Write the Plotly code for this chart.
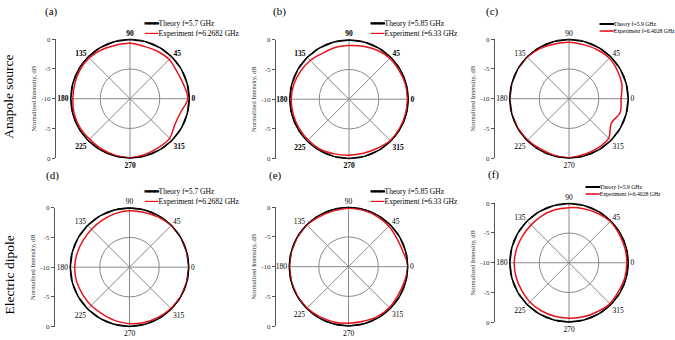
import plotly.graph_objects as go

# ---------------- data ----------------
angles = [0, 15, 30, 45, 60, 75, 90, 105, 120, 135, 150, 165,
          180, 195, 210, 225, 240, 255, 270, 285, 300, 315, 330, 345]

theory_db = [0, 0, 0, 0, 0, 0, 0, 0, 0, 0, 0, 0,
             0, 0, 0, 0, 0, 0, 0, 0, 0, 0, 0, 0]

exp_a = [-0.3, -0.7, -0.9, -0.7, -0.8, -0.9, -0.7, -0.7, -0.5, -0.3, -0.3, -0.4,
         -0.4, -0.3, -0.3, -0.4, -0.3, -0.2, -0.1, -0.3, -0.5, -0.6, -1.3, -1.2]
exp_b = [-0.2, -0.2, -0.3, -0.3, -0.5, -0.8, -1.0, -1.0, -1.1, -0.8, -0.6, -0.4,
         -0.3, -0.3, -0.3, -0.3, -0.3, -0.5, -0.6, -0.6, -0.5, -0.2, -0.2, -0.2]
exp_c = [-1.25, -0.8, -0.6, -0.4, -0.5, -0.6, -0.5, -0.5, -0.3, -0.1, 0.0, 0.0,
         0.0, 0.0, -0.1, -0.2, -0.3, -0.2, -0.1, -0.3, -0.4, -0.6, -1.8, -1.1]
exp_d = [0.0, -0.1, 0.0, -0.1, -0.3, -0.5, -0.55, -0.7, -0.9, -1.0, -1.0, -0.9,
         -0.8, -0.8, -0.9, -0.9, -0.9, -0.7, -0.5, -0.4, -0.3, -0.2, -0.1, -0.1]
exp_e = [0.0, -0.5, -0.6, -0.4, -0.3, -0.2, -0.2, -0.3, -0.3, -0.1, -0.1, -0.1,
         -0.1, -0.1, -0.1, -0.2, -0.3, -0.4, -0.5, -0.5, -0.3, -0.3, -0.4, -0.3]
exp_f = [-0.3, -0.3, -0.3, -0.2, -0.4, -0.6, -0.75, -0.8, -0.9, -1.0, -1.0, -0.9,
         -0.8, -0.8, -0.8, -0.7, -0.7, -0.7, -0.7, -0.6, -0.5, -0.3, -0.4, -0.3]

experiments = [exp_a, exp_b, exp_c, exp_d, exp_e, exp_f]

panel_labels = ["(a)", "(b)", "(c)", "(d)", "(e)", "(f)"]
theory_labels = ["Theory f=5.7 GHz", "Theory f=5.85 GHz", "Theory f=5.9 GHz",
                 "Theory f=5.7 GHz", "Theory f=5.85 GHz", "Theory f=5.9 GHz"]
exp_labels = ["Experiment f=6.2682 GHz", "Experiment f=6.33 GHz", "Experiment f=6.4028 GHz",
              "Experiment f=6.2682 GHz", "Experiment f=6.33 GHz", "Experiment f=6.4028 GHz"]
row_labels = ["Anapole source", "Electric dipole"]

angle_ticks = [0, 45, 90, 135, 180, 225, 270, 315]
left_tickvals = [-10, -5, 0, 5, 10]
left_ticktext = ["0", "-5", "-10", "-5", "0"]
left_title = "Normalized Intensity, dB"

# ---------------- layout geometry (pixels) ----------------
W, H = 675, 340
R = 61
centers = [(130, 97), (349, 97.5), (569, 97), (129.5, 269.5), (348.5, 269), (569, 265)]
axis_x = [56, 276, 495, 55, 276, 495]
label_pos = [(51, 8), (279, 8), (492, 8), (52, 176), (275, 176), (493, 175)]
legend_pos = [(142, 25), (368, 25), (597, 24), (142, 197), (368, 197), (583, 190.5)]
legend_font = [7.5, 7.5, 5.7, 7.5, 7.5, 5.7]
bold_ticks = [True, True, False, False, False, False]
row_label_pos = [(9, 95), (9, 278)]

SERIF = "Liberation Serif"
RED = "#e8141b"


def px(x):
    return x / W


def py(y):
    return 1 - y / H


fig = go.Figure()
layout = dict(
    width=W, height=H, margin=dict(l=0, r=0, t=0, b=0),
    paper_bgcolor="white", plot_bgcolor="white", showlegend=False,
    font=dict(family=SERIF, color="black"),
)
annotations = []

for i in range(6):
    n = "" if i == 0 else str(i + 1)
    cx, cy = centers[i]
    layout["polar" + n] = dict(
        domain=dict(x=[px(cx - R), px(cx + R)], y=[py(cy + R), py(cy - R)]),
        bgcolor="white",
        radialaxis=dict(range=[-10, 0], tickvals=[-5], showticklabels=False, ticks="",
                        showline=False, gridcolor="#8a8a8a", gridwidth=0.8),
        angularaxis=dict(rotation=0, direction="counterclockwise", tickvals=angle_ticks,
                         ticks="", showline=True, linecolor="black", linewidth=1,
                         gridcolor="#8a8a8a", gridwidth=0.8,
                         tickfont=dict(family=SERIF, size=7.5, color="black",
                                       weight="bold" if bold_ticks[i] else "normal")),
    )
    sub = "polar" + n
    fig.add_trace(go.Scatterpolar(
        r=theory_db + theory_db[:1], theta=angles + angles[:1], mode="lines",
        name=theory_labels[i], subplot=sub,
        line=dict(color="black", width=2.2)))
    fig.add_trace(go.Scatterpolar(
        r=experiments[i] + experiments[i][:1], theta=angles + angles[:1], mode="lines",
        name=exp_labels[i], subplot=sub,
        line=dict(color=RED, width=1.5, shape="spline", smoothing=1)))

    # left intensity axis (tick positions carried by an invisible trace)
    ax = axis_x[i]
    fig.add_trace(go.Scatter(
        x=[0] * len(left_tickvals), y=left_tickvals, mode="markers",
        marker=dict(opacity=0, size=1), hoverinfo="skip",
        xaxis="x" + n, yaxis="y" + n))
    layout["xaxis" + n] = dict(domain=[px(ax), px(ax + 2)], anchor="y" + n,
                               visible=False, range=[0, 1])
    layout["yaxis" + n] = dict(
        domain=[py(cy + R), py(cy - R)], anchor="x" + n, visible=True,
        range=[-10, 10], tickvals=left_tickvals, ticktext=left_ticktext,
        showline=True, linecolor="#555555", linewidth=1, ticks="outside", ticklen=3,
        tickcolor="#555555", showgrid=False, zeroline=False,
        tickfont=dict(family=SERIF, size=7, color="#333333"),
        title=dict(text=left_title, font=dict(family=SERIF, size=6.5, color="#333333"),
                   standoff=3),
    )

    lx, ly = label_pos[i]
    annotations.append(dict(text=panel_labels[i], x=px(lx), y=py(ly), xref="paper",
                            yref="paper", showarrow=False, xanchor="center",
                            yanchor="middle", font=dict(family=SERIF, size=11)))
    gx, gy = legend_pos[i]
    fs = legend_font[i]
    nchar = 3 if fs >= 7 else 4
    sym = ("<span style='font-family:DejaVu Sans;font-size:%spx;fill:%s;stroke:%s;"
           "stroke-width:%spx'>" + "\u2501" * nchar + "</span>")
    leg_text = (sym % (fs, "black", "black", 0.9) + theory_labels[i] + "<br>" +
                sym % (fs, RED, RED, 0.1 if fs >= 7 else 0.4) + exp_labels[i])
    annotations.append(dict(text=leg_text, x=px(gx), y=py(gy), xref="paper", yref="paper",
                            showarrow=False, xanchor="left", yanchor="middle", align="left",
                            font=dict(family=SERIF, size=fs, color="black")))

for j in range(2):
    rx, ry = row_label_pos[j]
    annotations.append(dict(text=row_labels[j], x=px(rx), y=py(ry), xref="paper",
                            yref="paper", showarrow=False, textangle=-90,
                            xanchor="center", yanchor="middle",
                            font=dict(family=SERIF, size=13.5)))

layout["annotations"] = annotations
fig.update_layout(**layout)
fig.write_html("out.html", config={"displayModeBar": False},
               post_script="document.body.style.margin='0';")
